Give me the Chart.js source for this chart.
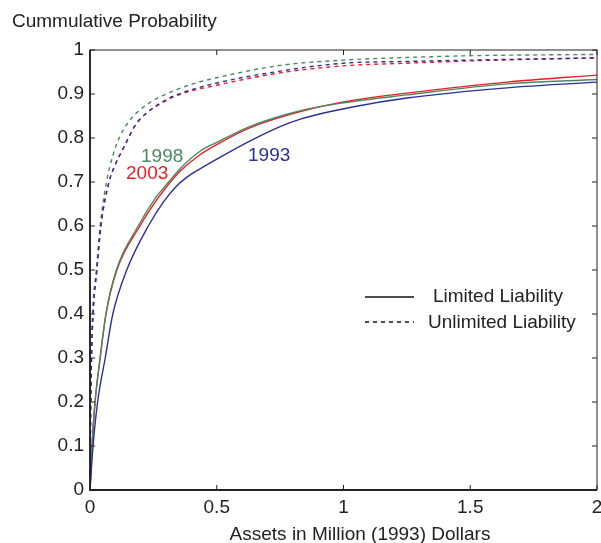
<!DOCTYPE html>
<html>
<head>
<meta charset="utf-8">
<script src="https://cdn.jsdelivr.net/npm/chart.js@4.4.0/dist/chart.umd.min.js"></script>
<style>
  body { margin: 0; background: #fff; }
  #wrap { width: 601px; height: 543px; }
</style>
</head>
<body>
<div id="wrap"><canvas id="cdfChart"></canvas></div>
<script>
// Data (assets in million 1993 dollars, cumulative probability)
const xTicks = [0, 0.5, 1, 1.5, 2];

// Limited liability (solid)
const lim1993X = [0, 0.012, 0.03, 0.06, 0.09, 0.145, 0.23, 0.29, 0.34, 0.38, 0.434, 0.5, 0.63, 0.75, 0.83, 1.03, 1.25, 1.645, 2.0];
const lim1993Y = [0, 0.1, 0.2, 0.3, 0.4, 0.5, 0.6, 0.655, 0.69, 0.71, 0.73, 0.752, 0.793, 0.826, 0.843, 0.87, 0.891, 0.914, 0.927];
const lim1998X = [0, 0.008, 0.02, 0.04, 0.063, 0.104, 0.19, 0.26, 0.31, 0.36, 0.434, 0.5, 0.63, 0.83, 1.0, 1.25, 1.645, 2.0];
const lim1998Y = [0, 0.1, 0.2, 0.3, 0.4, 0.5, 0.6, 0.665, 0.7, 0.733, 0.77, 0.79, 0.826, 0.862, 0.88, 0.898, 0.923, 0.933];
const lim2003X = [0, 0.008, 0.02, 0.04, 0.063, 0.106, 0.197, 0.27, 0.31, 0.36, 0.434, 0.5, 0.63, 0.83, 1.0, 1.25, 1.645, 2.0];
const lim2003Y = [0, 0.1, 0.2, 0.3, 0.4, 0.5, 0.6, 0.665, 0.695, 0.727, 0.762, 0.785, 0.823, 0.86, 0.882, 0.902, 0.927, 0.943];

// Unlimited liability (dashed)
const unl1993X = [0, 0.002, 0.006, 0.012, 0.027, 0.043, 0.075, 0.1, 0.13, 0.18, 0.22, 0.3, 0.36, 0.5, 0.75, 1.0, 1.25, 1.6, 2.0];
const unl1993Y = [0, 0.15, 0.3, 0.4, 0.5, 0.6, 0.7, 0.74, 0.775, 0.83, 0.855, 0.887, 0.902, 0.925, 0.952, 0.97, 0.974, 0.978, 0.982];
const unl1998X = [0, 0.002, 0.005, 0.01, 0.025, 0.04, 0.065, 0.09, 0.115, 0.15, 0.18, 0.24, 0.3, 0.4, 0.5, 0.75, 1.0, 1.25, 1.5, 2.0];
const unl1998Y = [0, 0.15, 0.3, 0.4, 0.5, 0.6, 0.7, 0.76, 0.8, 0.835, 0.855, 0.882, 0.9, 0.922, 0.937, 0.965, 0.977, 0.983, 0.987, 0.99];
const unl2003X = [0, 0.002, 0.006, 0.012, 0.027, 0.043, 0.075, 0.1, 0.13, 0.18, 0.22, 0.3, 0.36, 0.5, 0.75, 1.0, 1.25, 1.6, 2.0];
const unl2003Y = [0, 0.15, 0.3, 0.4, 0.5, 0.6, 0.7, 0.74, 0.775, 0.83, 0.855, 0.885, 0.9, 0.92, 0.948, 0.964, 0.97, 0.977, 0.982];

const BLUE = "#2b2f98";
const GREEN = "#4a8862";
const RED = "#ec1c24";
const FONT = "Liberation Sans, Arial, sans-serif";

function pts(xs, ys) {
  return xs.map((x, i) => ({ x: x, y: ys[i] }));
}

function series(label, xs, ys, color, dashed) {
  return {
    label: label,
    data: pts(xs, ys),
    borderColor: color,
    borderWidth: 1.4,
    borderDash: dashed ? [4, 4] : [],
    pointRadius: 0,
    cubicInterpolationMode: "monotone",
    fill: false,
  };
}

// Box, inward ticks, legend and text labels
const decor = {
  id: "decor",
  afterDraw(chart) {
    const ctx = chart.ctx;
    const a = chart.chartArea;
    const xs = chart.scales.x;
    const ys = chart.scales.y;
    ctx.save();
    ctx.strokeStyle = "#222";
    ctx.lineWidth = 1;
    ctx.strokeRect(a.left, a.top, a.right - a.left, a.bottom - a.top);
    ctx.lineWidth = 1.8;
    ctx.beginPath();
    ctx.moveTo(a.left, a.top);
    ctx.lineTo(a.left, a.bottom);
    ctx.lineTo(a.right, a.bottom);
    ctx.stroke();

    ctx.lineWidth = 1;
    ctx.beginPath();
    xTicks.forEach((v) => {
      const px = xs.getPixelForValue(v);
      ctx.moveTo(px, a.bottom);
      ctx.lineTo(px, a.bottom - 5);
      ctx.moveTo(px, a.top);
      ctx.lineTo(px, a.top + 5);
    });
    for (let i = 0; i <= 10; i++) {
      const py = ys.getPixelForValue(i / 10);
      ctx.moveTo(a.left, py);
      ctx.lineTo(a.left + 5, py);
      ctx.moveTo(a.right, py);
      ctx.lineTo(a.right - 5, py);
    }
    ctx.stroke();

    // legend
    ctx.strokeStyle = "#111";
    ctx.lineWidth = 1.4;
    ctx.beginPath();
    ctx.moveTo(365, 297);
    ctx.lineTo(414, 297);
    ctx.stroke();
    ctx.setLineDash([4, 4]);
    ctx.beginPath();
    ctx.moveTo(365, 322);
    ctx.lineTo(414, 322);
    ctx.stroke();
    ctx.setLineDash([]);

    ctx.font = "19px " + FONT;
    ctx.fillStyle = "#222";
    ctx.textBaseline = "middle";
    ctx.textAlign = "left";
    ctx.fillText("Limited Liability", 433, 297);
    ctx.fillText("Unlimited Liability", 428, 323);

    // titles
    ctx.fillText("Cummulative Probability", 12, 22);
    ctx.textAlign = "center";
    ctx.fillText("Assets in Million (1993) Dollars", 360, 535);

    // year labels
    ctx.textAlign = "left";
    ctx.fillStyle = GREEN;
    ctx.fillText("1998", 141, 157);
    ctx.fillStyle = RED;
    ctx.fillText("2003", 126, 174);
    ctx.fillStyle = BLUE;
    ctx.fillText("1993", 248, 156);
    ctx.restore();
  },
};

const cdfChart = new Chart(document.getElementById("cdfChart"), {
  type: "line",
  data: {
    datasets: [
      series("1993 Unlimited", unl1993X, unl1993Y, BLUE, true),
      series("2003 Unlimited", unl2003X, unl2003Y, RED, true),
      series("1998 Unlimited", unl1998X, unl1998Y, GREEN, true),
      series("1993 Limited", lim1993X, lim1993Y, BLUE, false),
      series("1998 Limited", lim1998X, lim1998Y, GREEN, false),
      series("2003 Limited", lim2003X, lim2003Y, RED, false),
    ],
  },
  options: {
    responsive: true,
    maintainAspectRatio: false,
    animation: false,
    layout: { padding: { top: 50, right: 4, left: 0, bottom: 0 } },
    plugins: {
      legend: { display: false },
      tooltip: { enabled: false },
    },
    scales: {
      x: {
        type: "linear",
        min: 0,
        max: 2,
        afterFit: (s) => {
          s.height = 53;
          s.paddingLeft = 0;
          s.paddingRight = 0;
        },
        afterBuildTicks: (s) => { s.ticks = xTicks.map((v) => ({ value: v })); },
        grid: { display: false, drawTicks: false },
        border: { display: false },
        ticks: {
          color: "#222",
          padding: 6,
          maxRotation: 0,
          font: { family: FONT, size: 19 },
          callback: (v) => String(+v.toFixed(1)),
        },
      },
      y: {
        min: 0,
        max: 1,
        afterFit: (s) => {
          s.width = 90;
          s.paddingTop = 0;
          s.paddingBottom = 0;
        },
        grid: { display: false, drawTicks: false },
        border: { display: false },
        ticks: {
          stepSize: 0.1,
          color: "#222",
          padding: 6,
          font: { family: FONT, size: 19 },
          callback: (v) => String(+v.toFixed(1)),
        },
      },
    },
  },
  plugins: [decor],
});
</script>
</body>
</html>
